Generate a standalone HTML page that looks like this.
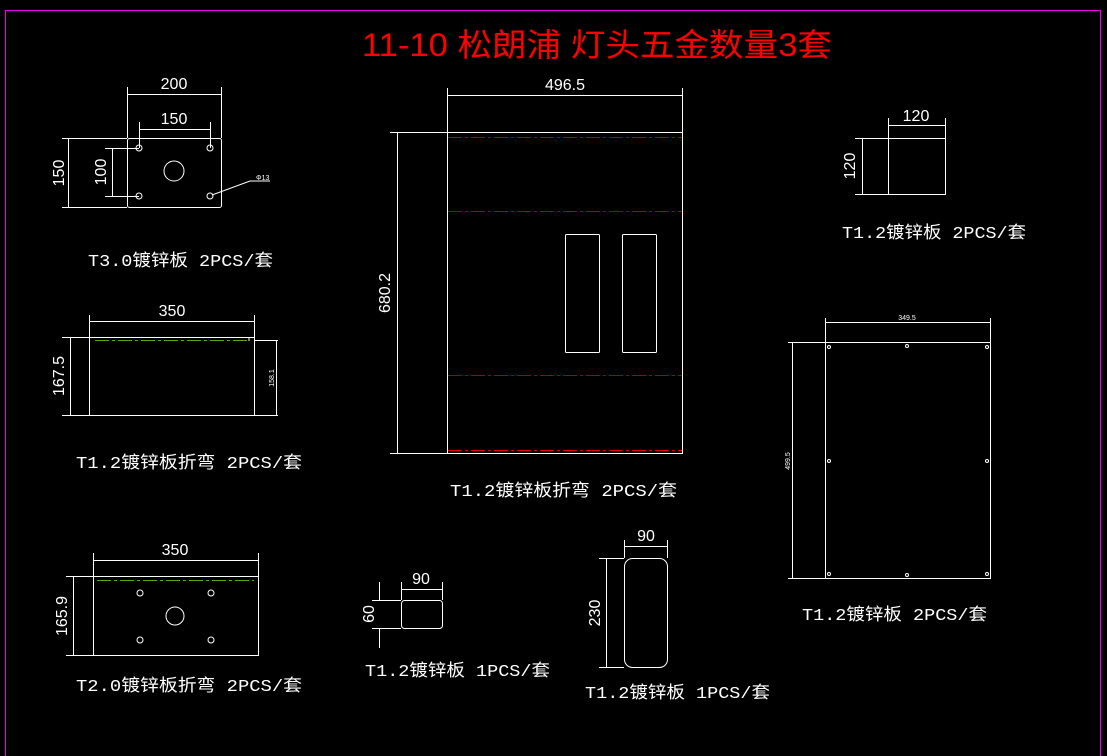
<!DOCTYPE html>
<html><head><meta charset="utf-8"><style>
html,body{margin:0;padding:0;background:#000;width:1107px;height:756px;overflow:hidden}
text{font-family:"Liberation Sans","Noto Sans CJK SC",sans-serif;fill:#fff}
.l{stroke:#fff;stroke-width:1;fill:none}
.lab{font-size:17px;font-family:"Liberation Mono","Noto Sans CJK SC",monospace}
.d{font-size:16px}
.rd{stroke:#a00;stroke-width:1;stroke-dasharray:14 3 3 3;fill:none}
.gr{stroke:#5a0;stroke-width:1;stroke-dasharray:14 3 3 3;fill:none}
</style></head><body>
<svg width="1107" height="756" xmlns="http://www.w3.org/2000/svg">
<rect x="5.5" y="10.5" width="1095" height="760" fill="none" stroke="#e0e" stroke-width="1"/>
<text x="362" y="56" font-size="32" style="fill:#f00" textLength="470" lengthAdjust="spacingAndGlyphs">11-10 松朗浦 灯头五金数量3套</text>

<!-- Drawing 1 -->
<g class="l">
<rect x="127.5" y="138.5" width="94" height="69" rx="2"/>
<path d="M127.5 87V138 M221.5 87V138 M127 94.5H221 M139.5 122V148 M210.5 122V148 M139 129.5H210 M62 138.5H127 M62 207.5H127 M68.5 138V207 M105 148.5H139 M105 196.5H139 M112.5 148V196 M212 195L250 181H270"/>
<circle cx="139" cy="148" r="3"/><circle cx="210" cy="148" r="3"/><circle cx="139" cy="196" r="3"/><circle cx="210" cy="196" r="3"/>
<circle cx="174" cy="171" r="10"/>
</g>
<text class="d" x="174" y="89" text-anchor="middle">200</text>
<text class="d" x="174" y="124" text-anchor="middle">150</text>
<text class="d" transform="translate(64 173) rotate(-90)" text-anchor="middle">150</text>
<text class="d" transform="translate(106 172) rotate(-90)" text-anchor="middle">100</text>
<text x="256" y="180" font-size="7">Φ13</text>
<text class="lab" x="88" y="266" textLength="185" lengthAdjust="spacingAndGlyphs">T3.0镀锌板 2PCS/套</text>

<!-- Drawing 2 -->
<g class="l">
<rect x="89.5" y="337.5" width="165" height="78"/>
<path d="M62 337.5H249V341 M254 340.5H278 M62 415.5H278 M89.5 315V337 M254.5 315V340 M89 321.5H254 M70.5 337V415 M276.5 340V415"/>
</g>
<path class="gr" d="M95 340.5H249"/>
<text class="d" x="172" y="316" text-anchor="middle">350</text>
<text class="d" transform="translate(64 376) rotate(-90)" text-anchor="middle">167.5</text>
<text transform="translate(274 378) rotate(-90)" text-anchor="middle" font-size="7">158.1</text>
<text class="lab" x="76" y="468" textLength="226" lengthAdjust="spacingAndGlyphs">T1.2镀锌板折弯 2PCS/套</text>

<!-- Drawing 3 -->
<g class="l">
<rect x="93.5" y="576.5" width="165" height="79"/>
<path d="M66 576.5H258 M66 655.5H93 M93.5 553V576 M258.5 553V576 M93 560.5H258 M73.5 576V655"/>
<circle cx="140" cy="593" r="3"/><circle cx="211" cy="593" r="3"/><circle cx="140" cy="640" r="3"/><circle cx="211" cy="640" r="3"/>
<circle cx="175" cy="616" r="9"/>
</g>
<path class="gr" d="M97 580.5H254"/>
<text class="d" x="175" y="555" text-anchor="middle">350</text>
<text class="d" transform="translate(67 616) rotate(-90)" text-anchor="middle">165.9</text>
<text class="lab" x="76" y="691" textLength="226" lengthAdjust="spacingAndGlyphs">T2.0镀锌板折弯 2PCS/套</text>

<!-- Big drawing -->
<g class="l">
<rect x="447.5" y="132.5" width="235" height="321"/>
<path d="M447.5 88V132 M682.5 88V132 M447 95.5H682 M390 132.5H447 M390 453.5H447 M397.5 132V453"/>
<rect x="565.5" y="234.5" width="34" height="118" rx="1"/>
<rect x="622.5" y="234.5" width="34" height="118" rx="1"/>
</g>
<path class="rd" d="M448 137.5H682 M448 211.5H682 M448 375.5H682"/>
<path d="M448 450.5H682" stroke="#e00" stroke-width="1" stroke-dasharray="14 3 3 3"/>
<text class="d" x="565" y="90" text-anchor="middle">496.5</text>
<text class="d" transform="translate(390 293) rotate(-90)" text-anchor="middle">680.2</text>
<text class="lab" x="450" y="496" textLength="227" lengthAdjust="spacingAndGlyphs">T1.2镀锌板折弯 2PCS/套</text>

<!-- top right -->
<g class="l">
<rect x="888.5" y="138.5" width="57" height="56"/>
<path d="M888.5 118V138 M945.5 118V138 M888 125.5H945 M855 138.5H888 M855 194.5H888 M862.5 138V194"/>
</g>
<text class="d" x="916" y="121" text-anchor="middle">120</text>
<text class="d" transform="translate(855 166) rotate(-90)" text-anchor="middle">120</text>
<text class="lab" x="842" y="238" textLength="184" lengthAdjust="spacingAndGlyphs">T1.2镀锌板 2PCS/套</text>

<!-- right big -->
<g class="l">
<rect x="825.5" y="342.5" width="165" height="236"/>
<path d="M825.5 318V342 M990.5 318V342 M825 322.5H990 M788 342.5H825 M788 578.5H825 M792.5 342V578"/>
<circle cx="829" cy="347" r="1.5"/><circle cx="987" cy="347" r="1.5"/><circle cx="829" cy="574" r="1.5"/><circle cx="987" cy="574" r="1.5"/><circle cx="907" cy="346" r="1.5"/><circle cx="907" cy="575" r="1.5"/><circle cx="829" cy="461" r="1.5"/><circle cx="987" cy="461" r="1.5"/>
</g>
<text x="907" y="320" text-anchor="middle" font-size="7">349.5</text>
<text transform="translate(790 461) rotate(-90)" text-anchor="middle" font-size="7">499.5</text>
<text class="lab" x="802" y="620" textLength="185" lengthAdjust="spacingAndGlyphs">T1.2镀锌板 2PCS/套</text>

<!-- small -->
<g class="l">
<rect x="401.5" y="600.5" width="41" height="28" rx="3"/>
<path d="M401.5 582V600 M442.5 582V600 M401 589.5H442 M372 600.5H401 M372 628.5H401 M379.5 582V600 M379.5 628V648"/>
</g>
<text class="d" x="421" y="584" text-anchor="middle">90</text>
<text class="d" transform="translate(374 614) rotate(-90)" text-anchor="middle">60</text>
<text class="lab" x="365" y="676" textLength="185" lengthAdjust="spacingAndGlyphs">T1.2镀锌板 1PCS/套</text>

<!-- tall -->
<g class="l">
<rect x="624.5" y="558.5" width="43" height="109" rx="8"/>
<path d="M624.5 540V558 M667.5 540V558 M624 546.5H667 M599 558.5H624 M599 667.5H624 M606.5 558V667"/>
</g>
<text class="d" x="646" y="541" text-anchor="middle">90</text>
<text class="d" transform="translate(600 613) rotate(-90)" text-anchor="middle">230</text>
<text class="lab" x="585" y="698" textLength="185" lengthAdjust="spacingAndGlyphs">T1.2镀锌板 1PCS/套</text>
</svg>
</body></html>
